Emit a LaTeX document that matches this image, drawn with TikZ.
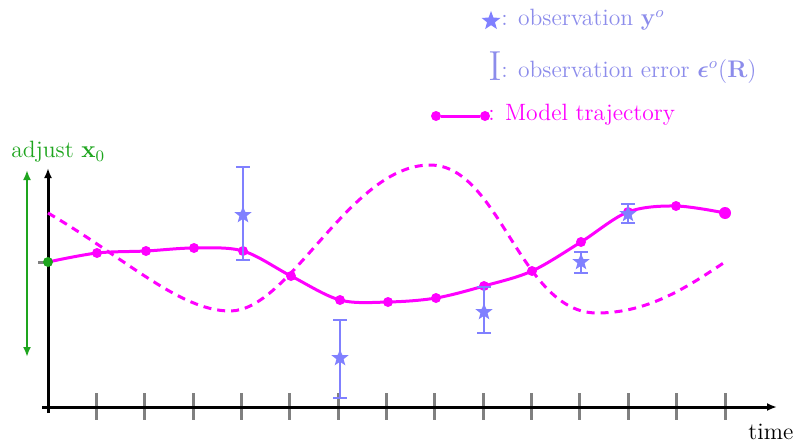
\documentclass[tikz,border=0pt]{standalone}
\usepackage{amsmath,amssymb}
\usetikzlibrary{arrows.meta,shapes.geometric}
\definecolor{obs}{RGB}{128,128,255}
\definecolor{lgtxt}{RGB}{140,140,235}
\definecolor{adj}{RGB}{30,165,30}
\definecolor{mag}{RGB}{255,0,255}
\begin{document}
\begin{tikzpicture}[x=0.5pt,y=-0.5pt, font=\fontsize{11.8}{14}\selectfont,
 axis/.style={line width=1.5pt,-{Latex[length=5pt,width=4pt]}},
 tickmark/.style={gray,line width=1.5pt},
 dot/.style={circle,fill=mag,inner sep=0pt,minimum size=5pt},
 traj/.style={mag,line width=1.5pt},
 errbar/.style={obs,line width=1.2pt},
 obsstar/.style={star,star points=5,star point ratio=2.4,fill=obs,draw=none,inner sep=0pt,minimum size=9pt}
]
\useasboundingbox (0,0) rectangle (795,444);

% axes
\coordinate (O) at (48,407);
\coordinate (ytop) at (48,168);
\coordinate (xleft) at (42,407);
\coordinate (xend) at (777,407);
\coordinate (ybot) at (48,413);
\foreach \k in {1,...,14}{
  \draw[tickmark] ({48+48.36*\k},393) -- ({48+48.36*\k},420);
}
\draw[tickmark] (38,262) -- (48,262);
\draw[axis] (ybot) -- (ytop);
\draw[axis] (xleft) -- (xend);
\node[anchor=west,inner sep=0pt] (time) at (748,432) {time};

% adjust arrow
\coordinate (ga) at (27,170);
\coordinate (gb) at (27,357);
\draw[adj,line width=1.2pt,{Latex[length=5pt,width=4pt]}-{Latex[length=5pt,width=4pt]}] (gb) -- (ga);
\node[adj,anchor=west,inner sep=0pt] (adjust) at (11,152) {adjust $\mathbf{x}_0$};

% dashed trajectory
\coordinate (d0) at (48,213);
\coordinate (d1) at (230,311);
\coordinate (d2) at (430,165);
\coordinate (d3) at (597,313);
\coordinate (d4) at (725,262);
\draw[mag,line width=1.5pt,dash pattern=on 4pt off 3pt]
 (d0) .. controls (125,258) and (180,311) .. (d1)
      .. controls (290,311) and (350,165) .. (d2)
      .. controls (500,165) and (520,313) .. (d3)
      .. controls (650,313) and (690,285) .. (d4);

% solid trajectory
\draw[traj] plot[smooth,tension=0.55] coordinates {
 (48,262) (97,253) (146,251) (194,248) (243,251) (291,276) (340,300) (388,302) (436,298) (484,286) (532,271) (581,242) (628,212) (676,206) (725,213)};
\foreach \x/\y [count=\i] in {97/253,146/251,194/248,243/251,291/276,340/300,388/302,436/298,484/286,532/271,581/242,628/212,676/206}{
  \node[dot] (p\i) at (\x,\y) {};
}
\node[dot,minimum size=6pt] (p14) at (725,213) {};
\node[circle,fill=adj,inner sep=0pt,minimum size=5pt] (p0) at (48,262) {};

% observations with error bars
\foreach \x/\t/\b/\s [count=\i] in {243/167/260/215, 340/320/398/358, 484/287/333/312, 581/252/273/262, 628/204/223/214}{
  \coordinate (et\i) at (\x,\t);
  \coordinate (eb\i) at (\x,\b);
  \draw[errbar] (et\i) -- (eb\i);
  \draw[errbar] ([xshift=-7pt/2]et\i) -- ([xshift=7pt/2]et\i);
  \draw[errbar] ([xshift=-7pt/2]eb\i) -- ([xshift=7pt/2]eb\i);
  \node[obsstar] (s\i) at (\x,\s) {};
}

% legend
\node[obsstar,minimum size=10pt] (lstar) at (491,21) {};
\node[lgtxt,anchor=west,inner sep=0pt] (ltxt1) at (501,20) {: observation $\mathbf{y}^o$};
\node[lgtxt,inner sep=0pt,font=\fontsize{21}{21}\selectfont] (lI) at (495,66) {I};
\node[lgtxt,anchor=west,inner sep=0pt] (ltxt2) at (501,71) {: observation error $\boldsymbol{\epsilon}^o(\mathbf{R})$};
\node[dot] (la) at (436,116) {};
\node[dot] (lb) at (485,116) {};
\draw[traj] (la) -- (lb);
\node[mag,anchor=west,inner sep=0pt] (ltxt3) at (488,115) {: Model trajectory};
\end{tikzpicture}
\end{document}
